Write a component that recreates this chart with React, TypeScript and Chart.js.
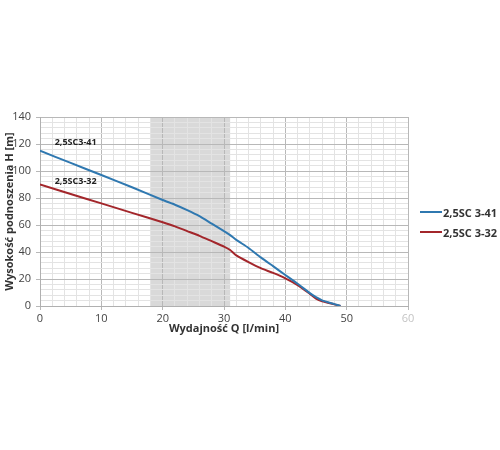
import { useEffect, useRef } from 'react'
import { Chart, registerables } from 'chart.js'
Chart.register(...registerables)

// Q [l/min]
const flow = [0, 5, 10, 15, 20, 22, 24, 26, 28, 30, 31, 32, 34, 36, 38, 40, 42, 44, 45, 46, 48, 49]
// H [m]
const head41 = [115, 106, 97, 88, 78.5, 75, 71, 66.5, 61, 55.5, 52.5, 49, 43, 36, 29.5, 23, 16.5, 9.5, 6.5, 4.2, 1.4, 0]
const head32 = [90, 83, 76, 69, 62, 59, 55.5, 52, 48, 44, 41.5, 37.5, 32.5, 28, 24.5, 20.5, 15.5, 9, 5.5, 3.5, 1.2, 0]

const seriesNames = ['2,5SC 3-41', '2,5SC 3-32']
const curveLabels = ['2,5SC3-41', '2,5SC3-32']
const curveLabelPos = [{ q: 2.4, h: 121 }, { q: 2.4, h: 92 }]
const bandRange = [18, 31]

const BLUE = '#2f78b0'
const RED = '#a3262b'
const FONT = '"Open Sans", "DejaVu Sans", sans-serif'

const bandPlugin = {
    id: 'band',
    beforeDraw(chart: any) {
        const { ctx, chartArea, scales } = chart
        const x0 = scales.x.getPixelForValue(bandRange[0])
        const x1 = scales.x.getPixelForValue(bandRange[1])
        ctx.save()
        ctx.fillStyle = '#d9d9d9'
        ctx.fillRect(x0, chartArea.top, x1 - x0, chartArea.bottom - chartArea.top)
        ctx.restore()
    },
}

const curveLabelPlugin = {
    id: 'curveLabels',
    afterDatasetsDraw(chart: any) {
        const { ctx, scales } = chart
        ctx.save()
        ctx.font = `bold 9px ${FONT}`
        ctx.fillStyle = '#222'
        ctx.textBaseline = 'middle'
        curveLabels.forEach((t, i) => {
            ctx.fillText(t, scales.x.getPixelForValue(curveLabelPos[i].q), scales.y.getPixelForValue(curveLabelPos[i].h))
        })
        ctx.restore()
    },
}

export default function App() {
    const canvasRef = useRef<HTMLCanvasElement>(null)
    const chartRef = useRef<Chart | null>(null)

    useEffect(() => {
        if (!canvasRef.current) return
        chartRef.current?.destroy()
        chartRef.current = new Chart(canvasRef.current, {
            type: 'line',
            data: {
                labels: flow,
                datasets: [
                    { label: seriesNames[0], data: flow.map((q, i) => ({ x: q, y: head41[i] })), borderColor: BLUE, borderWidth: 2, pointRadius: 0, tension: 0.2 },
                    { label: seriesNames[1], data: flow.map((q, i) => ({ x: q, y: head32[i] })), borderColor: RED, borderWidth: 2, pointRadius: 0, tension: 0.2 },
                ],
            },
            options: {
                animation: false,
                responsive: false,
                layout: { padding: { top: 117, right: 92, bottom: 115, left: 0 } },
                plugins: { legend: { display: false }, tooltip: { enabled: false } },
                scales: {
                    x: {
                        type: 'linear', min: 0, max: 60,
                        afterFit: (s: any) => { s.height = 29 },
                        border: { color: '#b0b0b0' },
                        grid: {
                            color: (c: any) => (c.tick.value % 10 === 0 ? '#b8b8b8' : '#e3e3e3'),
                            tickColor: (c: any) => (c.tick.value % 10 === 0 ? '#b8b8b8' : 'rgba(0,0,0,0)'),
                            tickLength: 4,
                        },
                        ticks: {
                            stepSize: 2, autoSkip: false, maxRotation: 0, padding: 2,
                            font: { family: FONT, size: 11 },
                            color: (c: any) => (c.tick.value === 60 ? '#c4c4c4' : '#444'),
                            callback: (v: any) => (v % 10 === 0 ? String(v) : ''),
                        },
                        title: { display: true, text: 'Wydajność Q [l/min]', color: '#333', font: { family: FONT, size: 11, weight: 'bold' }, padding: 0 },
                    },
                    y: {
                        min: 0, max: 140,
                        afterFit: (s: any) => { s.width = 40 },
                        border: { color: '#b0b0b0' },
                        grid: {
                            color: (c: any) => (c.tick.value % 20 === 0 ? '#b8b8b8' : '#e3e3e3'),
                            tickColor: (c: any) => (c.tick.value % 20 === 0 ? '#b8b8b8' : 'rgba(0,0,0,0)'),
                            tickLength: 4,
                        },
                        ticks: {
                            stepSize: 4, autoSkip: false, padding: 5,
                            font: { family: FONT, size: 11 }, color: '#444',
                            callback: (v: any) => (v % 20 === 0 ? String(v) : ''),
                        },
                        title: { display: true, text: 'Wysokość podnoszenia H [m]', color: '#333', font: { family: FONT, size: 11, weight: 'bold' }, padding: { top: 3, bottom: 0 } },
                    },
                },
            },
            plugins: [bandPlugin, curveLabelPlugin],
        } as any)
        return () => chartRef.current?.destroy()
    }, [])

    return (
        <div style={{ position: 'absolute', left: 0, top: 0, width: 500, height: 450, background: 'white', fontFamily: FONT }}>
            <canvas ref={canvasRef} width={500} height={450} style={{ width: 500, height: 450 }} />
            <div style={{ position: 'absolute', left: 420, top: 202 }}>
                {seriesNames.map((name, i) => (
                    <div key={name} style={{ display: 'flex', alignItems: 'center', height: 20, fontSize: 11, fontWeight: 'bold', color: '#333' }}>
                        <span style={{ width: 22, height: 2, background: i === 0 ? BLUE : RED, display: 'inline-block', marginRight: 1 }} />
                        {name}
                    </div>
                ))}
            </div>
        </div>
    )
}
